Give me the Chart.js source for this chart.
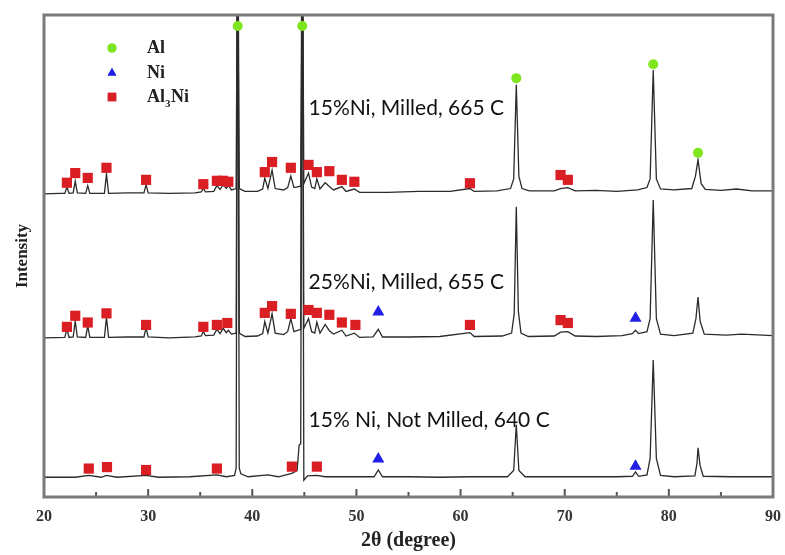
<!DOCTYPE html>
<html>
<head>
<meta charset="utf-8">
<script src="https://cdn.jsdelivr.net/npm/chart.js@4.4.1/dist/chart.umd.min.js"></script>
<style>
  html, body { margin: 0; padding: 0; background: #fff; }
  #wrap { width: 785px; height: 555px; }
</style>
</head>
<body>
<div id="wrap"><canvas id="xrdChart"></canvas></div>

<script>
// x axis tick labels (2theta, degrees)
const xTicks = [20, 30, 40, 50, 60, 70, 80, 90];

// XRD traces, [2theta, intensity] (arbitrary units, stacked)
const traceTop = [
  [20,62.9],[21.5,63.0],[22.0,63.0],[22.2,64.3],[22.4,63.0],[22.8,63.1],[23.0,65.5],[23.2,63.1],
  [24.0,63.0],[24.2,64.6],[24.4,63.0],[25.8,63.0],[26.0,67.0],[26.2,63.0],[28.0,63.1],[29.6,63.1],
  [29.8,64.8],[30.0,63.1],[32.0,63.0],[34.5,63.1],[35.1,63.3],[35.3,64.0],[35.5,63.3],[36.3,63.4],
  [36.6,64.6],[36.9,63.8],[37.2,64.8],[37.5,64.0],[37.7,64.6],[38.0,63.7],[38.45,64.0],[38.6,130],
  [38.75,64.0],[39.3,63.4],[40.5,63.4],[41.0,63.9],[41.2,66.2],[41.5,64.0],[41.9,67.8],[42.2,64.0],
  [43.0,63.7],[43.4,64.2],[43.7,66.6],[44.0,64.2],[44.65,64.5],[44.8,130],[44.95,65.0],[45.4,67.2],
  [45.7,64.3],[46.0,64.0],[46.2,66.0],[46.5,63.9],[47.0,65.2],[47.4,64.4],[47.8,63.7],[48.6,64.4],
  [49.0,63.4],[49.8,63.9],[50.3,63.2],[53.0,63.2],[56.0,63.4],[59.0,63.4],[60.9,64.0],[61.3,63.4],
  [63.5,63.5],[64.8,64.0],[65.1,66.0],[65.35,85.5],[65.6,66.5],[65.9,64.0],[66.6,63.5],[69.0,63.5],
  [69.6,64.0],[70.3,64.2],[71.0,63.5],[73.0,63.6],[75.0,63.4],[77.0,63.7],[77.9,64.2],[78.2,66.0],
  [78.5,88.6],[78.8,66.0],[79.2,63.9],[80.5,63.7],[82.2,64.0],[82.55,66.5],[82.8,70.0],[83.1,65.0],
  [83.5,63.8],[85.0,63.6],[86.5,63.9],[88.0,63.5],[90,63.5]
];
const traceMid = [
  [20,33.0],[22.0,33.1],[22.2,34.9],[22.4,33.1],[22.8,33.2],[23.0,36.5],[23.2,33.2],[24.0,33.1],
  [24.2,35.5],[24.4,33.1],[25.8,33.1],[26.0,37.3],[26.2,33.1],[28.0,33.2],[29.6,33.2],[29.8,35.1],
  [30.0,33.2],[32.0,33.0],[34.5,33.2],[35.1,33.4],[35.3,34.4],[35.5,33.5],[36.3,33.6],[36.6,34.8],
  [36.9,33.9],[37.2,35.0],[37.5,34.1],[37.7,34.6],[38.0,33.8],[38.45,34.0],[38.6,130],[38.75,34.0],
  [39.3,33.3],[40.5,33.4],[41.0,33.9],[41.2,36.4],[41.5,34.0],[41.9,38.0],[42.2,34.0],[43.0,33.7],
  [43.4,34.3],[43.7,37.0],[44.0,34.3],[44.65,34.8],[44.8,130],[44.95,35.0],[45.4,37.0],[45.7,34.3],
  [46.0,34.0],[46.2,36.3],[46.5,34.0],[47.0,35.8],[47.4,34.5],[47.8,33.8],[48.6,34.6],[49.0,33.4],
  [49.8,34.0],[50.3,33.1],[51.6,33.2],[52.1,34.8],[52.5,33.2],[55.0,33.2],[58.0,33.3],[60.9,34.1],
  [61.3,33.3],[64.0,33.4],[64.9,34.0],[65.15,38.0],[65.35,60.2],[65.55,38.5],[65.8,34.0],[66.5,33.3],
  [69.0,33.4],[69.6,34.2],[70.3,34.3],[71.0,33.4],[73.0,33.3],[75.5,33.5],[76.5,33.9],[76.8,34.6],
  [77.1,33.9],[77.9,34.3],[78.2,37.0],[78.5,61.6],[78.8,37.0],[79.2,33.8],[80.5,33.5],[82.3,34.0],
  [82.6,37.0],[82.8,41.5],[83.0,36.5],[83.4,33.8],[85.5,33.6],[87.0,33.8],[90,33.5]
];
const traceBot = [
  [20,4.1],[23.0,4.1],[24.3,4.5],[25.5,4.1],[26.0,4.5],[27.0,4.1],[29.8,4.5],[31.0,4.1],[34.0,4.2],
  [36.6,4.6],[37.5,4.2],[38.3,4.5],[38.45,6.0],[38.6,130],[38.75,6.0],[38.9,4.8],[39.6,4.2],[41.5,4.6],
  [42.5,4.2],[43.8,4.9],[44.3,5.5],[44.5,10.8],[44.65,11.0],[44.8,130],[44.95,3.5],[45.3,4.4],
  [46.2,4.5],[47.0,4.2],[50.0,4.2],[51.7,4.2],[52.1,5.6],[52.5,4.2],[55.0,4.2],[58.0,4.1],[61.0,4.2],
  [64.5,4.2],[65.1,5.5],[65.35,15.0],[65.6,5.5],[66.2,4.2],[69.0,4.2],[72.0,4.2],[75.0,4.2],
  [76.5,4.3],[76.8,5.2],[77.1,4.3],[77.9,4.6],[78.2,8.0],[78.5,28.4],[78.8,8.0],[79.2,4.5],
  [80.5,4.2],[82.5,4.4],[82.7,7.0],[82.8,10.2],[83.0,6.5],[83.3,4.3],[86.0,4.2],[90,4.2]
];

// phase markers [2theta, intensity]
const alPeaks = [[38.6,97.7],[44.8,97.7],[65.35,86.9],[78.5,89.8],[82.8,71.4]];
const niPeaks = [[52.1,38.4],[76.8,37.1],[52.1,7.9],[76.8,6.4]];
const al3niPeaks = [
  [22.2,65.2],[23.0,67.2],[24.2,66.2],[26.0,68.3],[29.8,65.8],[35.3,64.9],[36.6,65.6],[37.2,65.6],
  [37.7,65.4],[41.2,67.4],[41.9,69.5],[43.7,68.3],[45.4,68.9],[46.2,67.4],[47.4,67.6],[48.6,65.8],
  [49.8,65.4],[60.9,65.1],[69.6,66.8],[70.3,65.8],
  [22.2,35.3],[23.0,37.6],[24.2,36.2],[26.0,38.1],[29.8,35.7],[35.3,35.3],[36.6,35.7],[37.6,36.1],
  [41.2,38.2],[41.9,39.6],[43.7,38.0],[45.4,38.8],[46.2,38.2],[47.4,37.8],[48.6,36.2],[49.9,35.7],
  [60.9,35.7],[69.6,36.7],[70.3,36.1],
  [24.3,5.9],[26.05,6.2],[29.8,5.6],[36.6,5.9],[43.8,6.3],[46.2,6.3]
];

// sample labels and their anchor (2theta, intensity)
const sampleLabels = ['15%Ni, Milled, 665 C', '25%Ni, Milled, 655 C', '15% Ni, Not Milled, 640 C'];
const labelAt = [[45.4, 80.7], [45.4, 44.6], [45.4, 16.0]];

const toXY = arr => arr.map(p => ({x: p[0], y: p[1]}));

const GREEN = '#7fe51f', BLUE = '#1f1fe6', RED = '#d91e24';

function traceSet(arr) {
  return {
    data: toXY(arr), showLine: true, borderColor: '#2b2b2b', borderWidth: 1.3,
    pointRadius: 0, tension: 0, order: 1
  };
}

// frame, inward ticks, legend and sample labels
const decor = {
  id: 'decor',
  afterDatasetsDraw(chart) {
    const {ctx, chartArea: a, scales: {x, y}} = chart;
    ctx.save();
    // inward tick marks
    ctx.strokeStyle = '#555';
    ctx.lineWidth = 2;
    for (let v = 20; v <= 90; v += 5) {
      const px = x.getPixelForValue(v);
      const len = v % 10 === 0 ? 8 : 5;
      ctx.beginPath();
      ctx.moveTo(px, a.bottom);
      ctx.lineTo(px, a.bottom - len);
      ctx.stroke();
    }
    // frame
    ctx.strokeStyle = '#7a7a7a';
    ctx.lineWidth = 3;
    ctx.strokeRect(a.left, a.top, a.right - a.left, a.bottom - a.top);

    // legend
    const items = [
      {style: 'circle', color: GREEN, r: 4.5, y: 48, text: 'Al'},
      {style: 'triangle', color: BLUE, r: 5, y: 73, text: 'Ni'},
      {style: 'rect', color: RED, r: 6, y: 97, text: 'Al3Ni'}
    ];
    ctx.font = 'bold 18px "Liberation Serif"';
    ctx.textBaseline = 'middle';
    items.forEach(it => {
      ctx.fillStyle = it.color;
      ctx.strokeStyle = it.color;
      Chart.helpers.drawPoint(ctx, {pointStyle: it.style, radius: it.r, rotation: 0, borderWidth: 0}, 112, it.y);
      ctx.fill();
      ctx.fillStyle = '#222';
      if (it.text === 'Al3Ni') {
        ctx.font = 'bold 18px "Liberation Serif"';
        ctx.fillText('Al', 147, it.y);
        const w = ctx.measureText('Al').width;
        ctx.font = 'bold 11px "Liberation Serif"';
        ctx.fillText('3', 147 + w, it.y + 7);
        ctx.font = 'bold 18px "Liberation Serif"';
        ctx.fillText('Ni', 147 + w + 6, it.y);
      } else {
        ctx.fillText(it.text, 147, it.y);
      }
    });

    // sample labels
    ctx.font = '21px Lato';
    ctx.fillStyle = '#111';
    ctx.textAlign = 'left';
    sampleLabels.forEach((t, i) => {
      ctx.fillText(t, x.getPixelForValue(labelAt[i][0]), y.getPixelForValue(labelAt[i][1]));
    });
    ctx.restore();
  }
};

new Chart(document.getElementById('xrdChart'), {
  type: 'scatter',
  data: {
    datasets: [
      traceSet(traceTop),
      traceSet(traceMid),
      traceSet(traceBot),
      {data: toXY(alPeaks), pointStyle: 'circle', pointRadius: 5, backgroundColor: GREEN, borderWidth: 0, order: 0},
      {data: toXY(niPeaks), pointStyle: 'triangle', pointRadius: 7, backgroundColor: BLUE, borderWidth: 0, order: 0},
      {data: toXY(al3niPeaks), pointStyle: 'rect', pointRadius: 7.2, backgroundColor: RED, borderWidth: 0, order: 0}
    ]
  },
  options: {
    responsive: true,
    maintainAspectRatio: false,
    animation: false,
    layout: {padding: {top: 15, right: 12, left: 0, bottom: 0}},
    plugins: {legend: {display: false}, tooltip: {enabled: false}},
    scales: {
      x: {
        type: 'linear', min: 20, max: 90,
        grid: {display: false},
        border: {display: false},
        afterBuildTicks: s => { s.ticks = xTicks.map(v => ({value: v})); },
        afterFit: s => { s.height = 58; },
        ticks: {padding: 2, color: '#333', font: {family: '"Liberation Serif"', weight: 'bold', size: 16}},
        title: {display: true, text: '2θ (degree)', color: '#222', padding: {top: 0, bottom: 2},
                font: {family: '"Liberation Serif"', weight: 'bold', size: 20}}
      },
      y: {
        min: 0, max: 100,
        grid: {display: false},
        border: {display: false},
        ticks: {display: false},
        afterFit: s => { s.width = 44; },
        title: {display: true, text: 'Intensity', color: '#222', padding: {top: 12, bottom: 0},
                font: {family: '"Liberation Serif"', weight: 'bold', size: 17}}
      }
    }
  },
  plugins: [decor]
});
</script>
</body>
</html>
